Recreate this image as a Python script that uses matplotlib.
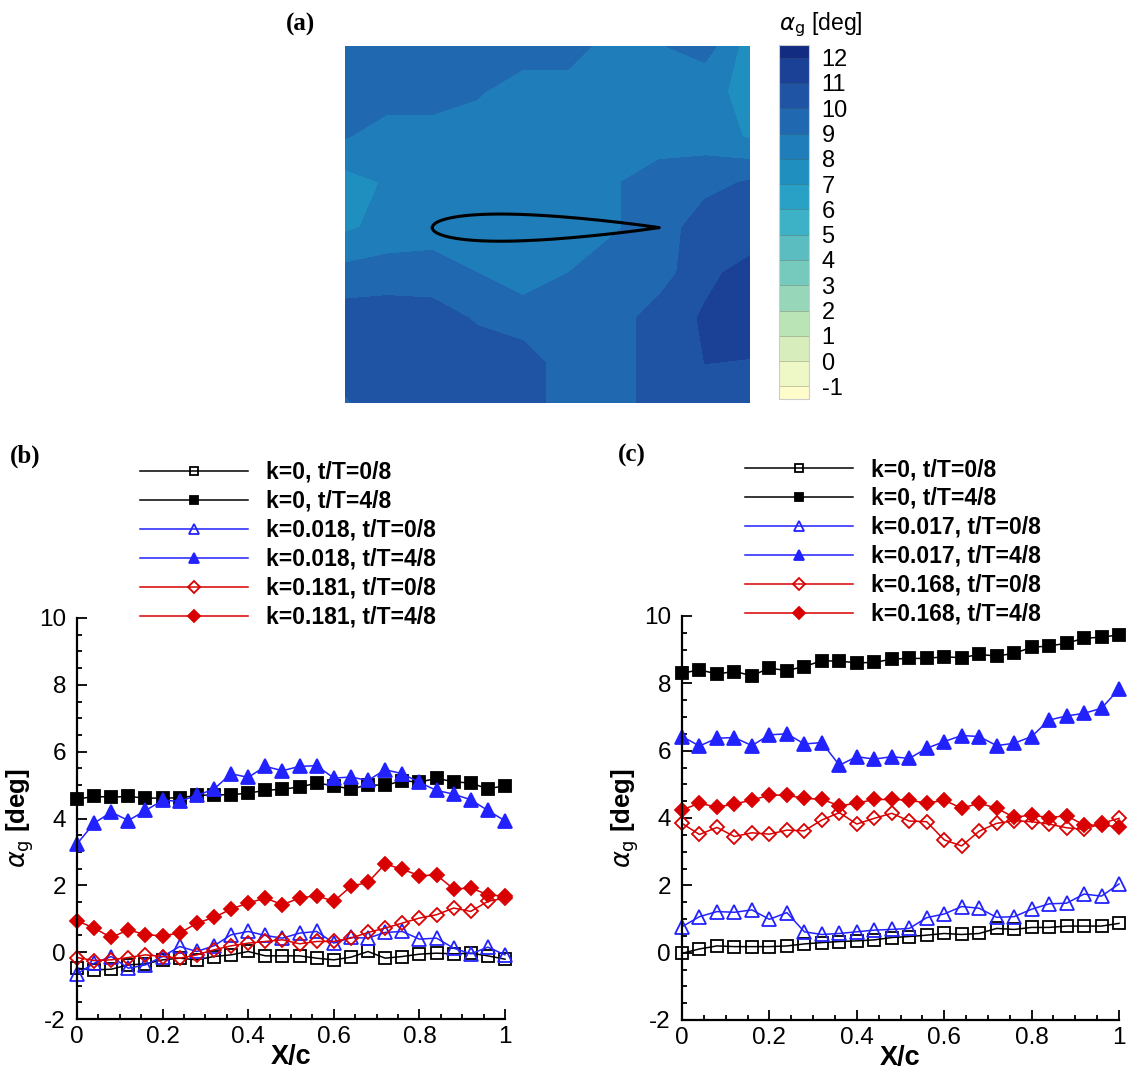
import numpy as np
import matplotlib
matplotlib.use("Agg")
import matplotlib.pyplot as plt
from matplotlib.colors import ListedColormap, BoundaryNorm
from matplotlib.ticker import MultipleLocator, FixedLocator, FixedFormatter

plt.rcParams['font.family'] = ['Liberation Sans', 'DejaVu Sans']
plt.rcParams['mathtext.fontset'] = 'dejavusans'

# ---------------- data ----------------
x_c = [0.00, 0.04, 0.08, 0.12, 0.16, 0.20, 0.24, 0.28, 0.32, 0.36, 0.40, 0.44, 0.48,
       0.52, 0.56, 0.60, 0.64, 0.68, 0.72, 0.76, 0.80, 0.84, 0.88, 0.92, 0.96, 1.00]

# panel (b)
b_k0_t0 = [-0.48, -0.53, -0.51, -0.38, -0.35, -0.23, -0.18, -0.23, -0.13, -0.08, 0.02, -0.11, -0.11,
           -0.11, -0.18, -0.23, -0.15, 0.02, -0.18, -0.13, -0.06, -0.03, -0.05, -0.03, -0.11, -0.21]
b_k0_t4 = [4.58, 4.66, 4.64, 4.66, 4.61, 4.61, 4.62, 4.69, 4.71, 4.71, 4.76, 4.84, 4.88,
           4.94, 5.06, 4.98, 4.88, 5.01, 4.99, 5.13, 5.09, 5.20, 5.10, 5.06, 4.89, 4.98]
b_k1_t0 = [-0.65, -0.33, -0.13, -0.48, -0.38, -0.13, 0.17, 0.02, 0.19, 0.52, 0.62, 0.50, 0.42,
           0.57, 0.62, 0.27, 0.44, 0.42, 0.59, 0.62, 0.39, 0.42, 0.12, -0.05, 0.15, -0.08]
b_k1_t4 = [3.24, 3.86, 4.19, 3.94, 4.24, 4.54, 4.52, 4.69, 4.88, 5.34, 5.23, 5.56, 5.43,
           5.56, 5.58, 5.21, 5.24, 5.14, 5.46, 5.34, 5.08, 4.84, 4.73, 4.56, 4.24, 3.93]
b_k2_t0 = [-0.16, -0.25, -0.23, -0.16, -0.08, -0.13, -0.18, -0.08, 0.07, 0.19, 0.27, 0.32, 0.37,
           0.25, 0.32, 0.32, 0.42, 0.59, 0.72, 0.87, 1.02, 1.12, 1.32, 1.22, 1.52, 1.62]
b_k2_t4 = [0.94, 0.72, 0.44, 0.67, 0.52, 0.49, 0.57, 0.87, 1.04, 1.29, 1.47, 1.62, 1.42,
           1.62, 1.69, 1.52, 1.97, 2.09, 2.64, 2.48, 2.29, 2.31, 1.89, 1.92, 1.72, 1.67]
b_labels = ["k=0, t/T=0/8", "k=0, t/T=4/8", "k=0.018, t/T=0/8",
            "k=0.018, t/T=4/8", "k=0.181, t/T=0/8", "k=0.181, t/T=4/8"]

# panel (c)
c_k0_t0 = [-0.02, 0.11, 0.20, 0.18, 0.18, 0.18, 0.20, 0.26, 0.30, 0.33, 0.35, 0.38, 0.45,
           0.48, 0.52, 0.57, 0.54, 0.57, 0.72, 0.69, 0.75, 0.75, 0.79, 0.79, 0.79, 0.87]
c_k0_t4 = [8.30, 8.40, 8.28, 8.35, 8.23, 8.45, 8.38, 8.50, 8.67, 8.66, 8.61, 8.62, 8.72,
           8.74, 8.74, 8.79, 8.76, 8.86, 8.81, 8.89, 9.07, 9.11, 9.19, 9.34, 9.37, 9.44]
c_k1_t0 = [0.77, 1.07, 1.22, 1.20, 1.27, 0.99, 1.19, 0.62, 0.54, 0.57, 0.62, 0.67, 0.69,
           0.72, 1.04, 1.15, 1.37, 1.32, 1.05, 1.07, 1.29, 1.45, 1.47, 1.74, 1.68, 2.04]
c_k1_t4 = [6.42, 6.14, 6.37, 6.39, 6.15, 6.47, 6.50, 6.20, 6.24, 5.57, 5.82, 5.75, 5.82,
           5.77, 6.07, 6.27, 6.45, 6.42, 6.15, 6.22, 6.42, 6.91, 7.03, 7.11, 7.26, 7.83]
c_k2_t0 = [3.84, 3.51, 3.72, 3.45, 3.56, 3.52, 3.64, 3.62, 3.94, 4.16, 3.82, 3.99, 4.14,
           3.91, 3.89, 3.35, 3.17, 3.61, 3.84, 3.92, 3.89, 3.82, 3.71, 3.66, 3.84, 3.99]
c_k2_t4 = [4.24, 4.44, 4.32, 4.42, 4.53, 4.68, 4.68, 4.58, 4.56, 4.36, 4.44, 4.55, 4.55,
           4.53, 4.44, 4.53, 4.29, 4.44, 4.29, 4.02, 4.09, 4.01, 4.07, 3.79, 3.79, 3.74]
c_labels = ["k=0, t/T=0/8", "k=0, t/T=4/8", "k=0.017, t/T=0/8",
            "k=0.017, t/T=4/8", "k=0.168, t/T=0/8", "k=0.168, t/T=4/8"]

x_ticks = [0, 0.2, 0.4, 0.6, 0.8, 1.0]
x_ticklabels = ["0", "0.2", "0.4", "0.6", "0.8", "1"]
y_ticks = [-2, 0, 2, 4, 6, 8, 10]
y_ticklabels = ["-2", "0", "2", "4", "6", "8", "10"]

# panel (a): coarse field of alpha_g (x/c, y/c grid)
field_x = [-0.4, -0.2, 0.0, 0.2, 0.4, 0.6, 0.8, 1.0, 1.2, 1.4]
field_y = [0.8, 0.6, 0.4, 0.2, 0.0, -0.2, -0.4, -0.6, -0.8]
field_alpha = [
    [9.8, 9.5, 9.5, 9.5, 9.5, 9.5, 8.5, 8.9, 9.5, 7.5],
    [9.7, 9.5, 9.5, 9.1, 8.5, 8.5, 8.5, 8.5, 8.1, 7.9],
    [9.1, 8.5, 8.5, 8.5, 8.5, 8.5, 8.5, 8.5, 8.5, 7.9],
    [7.5, 8.1, 8.5, 8.5, 8.5, 8.5, 8.9, 9.5, 9.7, 10.1],
    [7.8, 8.3, 8.5, 8.5, 8.5, 8.5, 8.9, 9.5, 10.5, 10.5],
    [9.3, 9.5, 9.5, 9.0, 8.5, 9.0, 9.5, 9.5, 10.8, 11.3],
    [10.5, 10.5, 10.4, 9.9, 9.5, 9.5, 9.5, 10.5, 11.1, 11.8],
    [10.5, 10.5, 10.5, 10.5, 10.5, 9.5, 9.5, 10.5, 11.0, 10.9],
    [9.7, 10.5, 10.5, 10.5, 10.5, 9.5, 9.5, 10.5, 10.5, 10.5],
]
cbar_ticks = [-1, 0, 1, 2, 3, 4, 5, 6, 7, 8, 9, 10, 11, 12]
cbar_levels = [-1.5, -1, 0, 1, 2, 3, 4, 5, 6, 7, 8, 9, 10, 11, 12, 12.5]
naca_thickness = 0.12

band_colors = ['#fffccc', '#eef7c6', '#d7edbb', '#bae3b6', '#97d6b9', '#76c9bd',
               '#5bbdc0', '#3db1c5', '#29a0c5', '#1f8fc0', '#1f7db9', '#2068b0',
               '#1f54a5', '#1b4197', '#112c80']

# ---------------- figure ----------------
W, H = 1131, 1072
fig = plt.figure(figsize=(W / 100, H / 100), dpi=100)


def rect(x0, y0, x1, y1):
    return [x0 / W, 1 - y1 / H, (x1 - x0) / W, (y1 - y0) / H]


# ---- panel (a) ----
ax_a = fig.add_axes(rect(345, 45, 750, 403))
cmap = ListedColormap(band_colors)
norm = BoundaryNorm(cbar_levels, cmap.N)
FX, FY = np.meshgrid(field_x, field_y)
cf = ax_a.contourf(FX, FY, np.array(field_alpha), levels=cbar_levels, cmap=cmap, norm=norm)
xs = (1 - np.cos(np.linspace(0, np.pi, 120))) / 2
yt = 5 * naca_thickness * (0.2969 * np.sqrt(xs) - 0.1260 * xs - 0.3516 * xs ** 2
                           + 0.2843 * xs ** 3 - 0.1036 * xs ** 4)
ax_a.plot(np.concatenate([xs, xs[::-1]]), np.concatenate([yt, -yt[::-1]]),
          color='black', lw=2.2, solid_joinstyle='round')
ax_a.set_xlim(-0.385, 1.40)
ax_a.set_ylim(-0.774, 0.806)
ax_a.set_aspect('auto')
ax_a.axis('off')

cax = fig.add_axes(rect(779, 45, 809, 399))
cb = fig.colorbar(cf, cax=cax, ticks=cbar_ticks, spacing='proportional')
cb.ax.minorticks_off()
cb.ax.set_yticklabels([str(t) for t in cbar_ticks])
cb.ax.tick_params(which='both', length=0, pad=9, labelsize=17)
cb.outline.set_edgecolor('#cccccc')
cb.outline.set_linewidth(0.8)
for lv in cbar_levels[1:-1]:
    cb.ax.axhline(lv, color='#444444', lw=0.6, alpha=0.35)
fig.text(821 / W, 1 - 25 / H, r'$\alpha_{\mathrm{g}}$ [deg]', fontsize=16.5,
         ha='center', va='center')

fig.text(300 / W, 1 - 24 / H, '(a)', fontsize=18, fontweight='bold',
         family='Liberation Serif', ha='center', va='center')

# ---- panels (b) and (c) ----
blue = '#2222ff'
red = '#d80000'
styles = [
    dict(color='black', marker='s', mfc='none', ms=8),
    dict(color='black', marker='s', mfc='black', ms=8),
    dict(color=blue, marker='^', mfc='none', ms=9.5),
    dict(color=blue, marker='^', mfc=blue, ms=9.5),
    dict(color=red, marker='D', mfc='none', ms=7.5),
    dict(color=red, marker='D', mfc=red, ms=7.5),
]


def make_panel(axrect, series, labels, leg_xy, tag_xy, tag):
    ax = fig.add_axes(axrect)
    handles = []
    for ys, st in zip(series, styles):
        ln, = ax.plot(x_c, ys, lw=1.1, mew=1.3, clip_on=False, **st)
        handles.append(ln)
    ax.set_xlim(0, 1)
    ax.set_ylim(-2, 10)
    for s in ['top', 'right']:
        ax.spines[s].set_visible(False)
    for s in ['left', 'bottom']:
        ax.spines[s].set_linewidth(1.6)
    ax.xaxis.set_major_locator(FixedLocator(x_ticks))
    ax.xaxis.set_major_formatter(FixedFormatter(x_ticklabels))
    ax.yaxis.set_major_locator(FixedLocator(y_ticks))
    ax.yaxis.set_major_formatter(FixedFormatter(y_ticklabels))
    ax.xaxis.set_minor_locator(MultipleLocator(0.05))
    ax.yaxis.set_minor_locator(MultipleLocator(0.5))
    ax.tick_params(which='both', direction='in', width=1.3)
    ax.tick_params(which='major', length=7)
    ax.tick_params(which='minor', length=3.5)
    ax.tick_params(axis='y', which='major', pad=8, labelsize=17.5)
    ax.tick_params(axis='x', which='major', pad=5, labelsize=17.5)
    ax.set_xlabel('X/c', fontsize=19.5, fontweight='bold', labelpad=-3)
    ax.set_ylabel(r'$\alpha_{\mathrm{g}}$ [deg]', fontsize=18.5, fontweight='bold', labelpad=2)
    ax.legend(handles, labels, loc='upper left',
              bbox_to_anchor=(leg_xy[0] / W, 1 - leg_xy[1] / H),
              bbox_transform=fig.transFigure, frameon=False,
              prop={'family': 'Liberation Sans', 'weight': 'bold', 'size': 16.5},
              handlelength=4.7, handletextpad=0.8, labelspacing=0.26,
              borderpad=0, borderaxespad=0, markerscale=0.8)
    fig.text(tag_xy[0] / W, 1 - tag_xy[1] / H, tag, fontsize=18, fontweight='bold',
             family='Liberation Serif', ha='center', va='center')
    return ax


make_panel(rect(77, 618, 505, 1019),
           [b_k0_t0, b_k0_t4, b_k1_t0, b_k1_t4, b_k2_t0, b_k2_t4],
           b_labels, (140, 461), (25, 456), '(b)')
make_panel(rect(682, 616, 1119, 1020),
           [c_k0_t0, c_k0_t4, c_k1_t0, c_k1_t4, c_k2_t0, c_k2_t4],
           c_labels, (745, 458), (632, 455), '(c)')

fig.savefig('out.png', dpi=100)
